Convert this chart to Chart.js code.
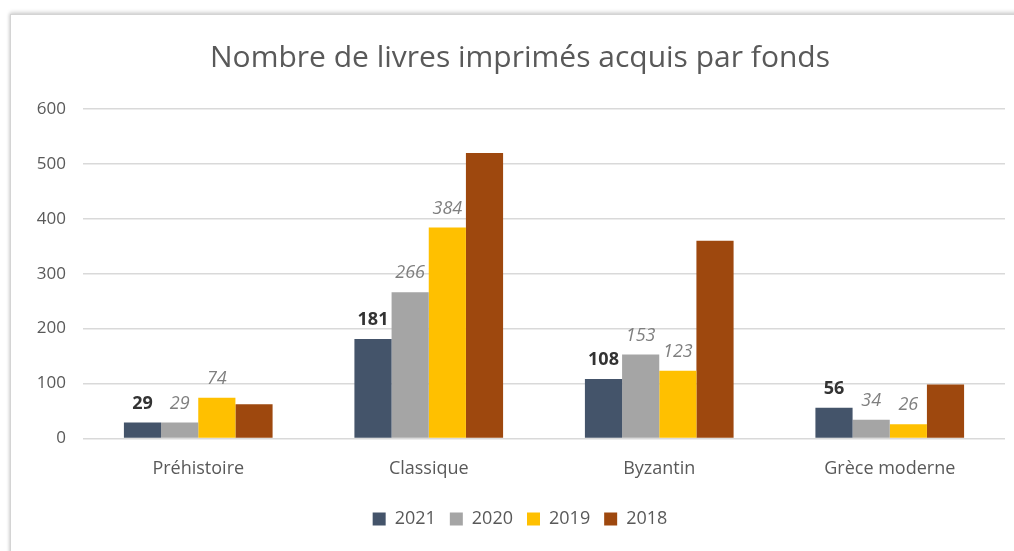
<!DOCTYPE html>
<html lang="fr">
<head>
  <meta charset="UTF-8">
  <title>Nombre de livres imprimés acquis par fonds</title>
  <script src="https://cdn.jsdelivr.net/npm/chart.js"></script>
  <style>
    body { margin: 0; background: #fff; overflow: hidden; }
    .card {
      position: absolute; left: 10px; top: 14px; width: 1030px; height: 545px;
      background: #fff; border: 1px solid #d4d4d4;
      box-shadow: 0 -2px 4px rgba(0,0,0,0.15), -1px 0 3px rgba(0,0,0,0.1);
    }
  </style>
</head>
<body>
  <div class="card">
    <canvas id="chart" width="1018" height="537"></canvas>
  </div>

  <script>
    // fonds and acquisitions per year
    const fonds = ['Préhistoire', 'Classique', 'Byzantin', 'Grèce moderne'];
    const years = ['2021', '2020', '2019', '2018'];
    const v2021 = [29, 181, 108, 56];
    const v2020 = [29, 266, 153, 34];
    const v2019 = [74, 384, 123, 26];
    const v2018 = [62, 520, 360, 98];
    const colors = ['#44546a', '#a5a5a5', '#ffc000', '#9e480e'];

    const FONT = "'Open Sans'";

    // value labels: 2021 bold dark, 2020/2019 italic grey, none for 2018
    const labelStyle = [
      { font: 'bold 18px ' + FONT, color: '#333333' },
      { font: 'italic 18px ' + FONT, color: '#7f7f7f' },
      { font: 'italic 18px ' + FONT, color: '#7f7f7f' },
      null
    ];

    const valueLabels = {
      id: 'valueLabels',
      afterDatasetsDraw(chart) {
        const ctx = chart.ctx;
        ctx.save();
        ctx.textAlign = 'center';
        ctx.textBaseline = 'bottom';
        chart.data.datasets.forEach((ds, i) => {
          const st = labelStyle[i];
          if (!st) return;
          chart.getDatasetMeta(i).data.forEach((bar, j) => {
            ctx.font = st.font;
            ctx.fillStyle = st.color;
            ctx.fillText(ds.data[j], bar.x, bar.y - 10);
          });
        });
        ctx.restore();
      }
    };

    new Chart(document.getElementById('chart'), {
      type: 'bar',
      data: {
        labels: fonds,
        datasets: [v2021, v2020, v2019, v2018].map((d, i) => ({
          label: years[i],
          data: d,
          backgroundColor: colors[i],
          categoryPercentage: 0.645,
          barPercentage: 1.0
        }))
      },
      options: {
        responsive: false,
        animation: false,
        layout: { padding: { left: 24, right: 24, top: 0, bottom: 14 } },
        plugins: {
          title: {
            display: true,
            text: 'Nombre de livres imprimés acquis par fonds',
            font: { family: 'Open Sans', size: 30, weight: 'normal' },
            color: '#595959',
            padding: { top: 25, bottom: 33 }
          },
          legend: {
            position: 'bottom',
            labels: {
              font: { family: 'Open Sans', size: 18 },
              color: '#595959',
              boxWidth: 13,
              boxHeight: 13,
              padding: 14
            }
          },
          tooltip: { enabled: false }
        },
        scales: {
          x: {
            grid: { display: false },
            border: { display: false },
            ticks: { font: { family: 'Open Sans', size: 18 }, color: '#595959', padding: 12 },
            // extra gap between category names and the legend
            afterFit(scale) { scale.height += 4; }
          },
          y: {
            min: 0,
            max: 600,
            ticks: { stepSize: 100, font: { family: 'Open Sans', size: 17 }, color: '#595959', padding: 17 },
            grid: { color: '#d9d9d9', lineWidth: 1.5, drawTicks: false },
            border: { display: false },
            afterFit(scale) { scale.width = 48; }
          }
        }
      },
      plugins: [valueLabels]
    });
  </script>
</body>
</html>
